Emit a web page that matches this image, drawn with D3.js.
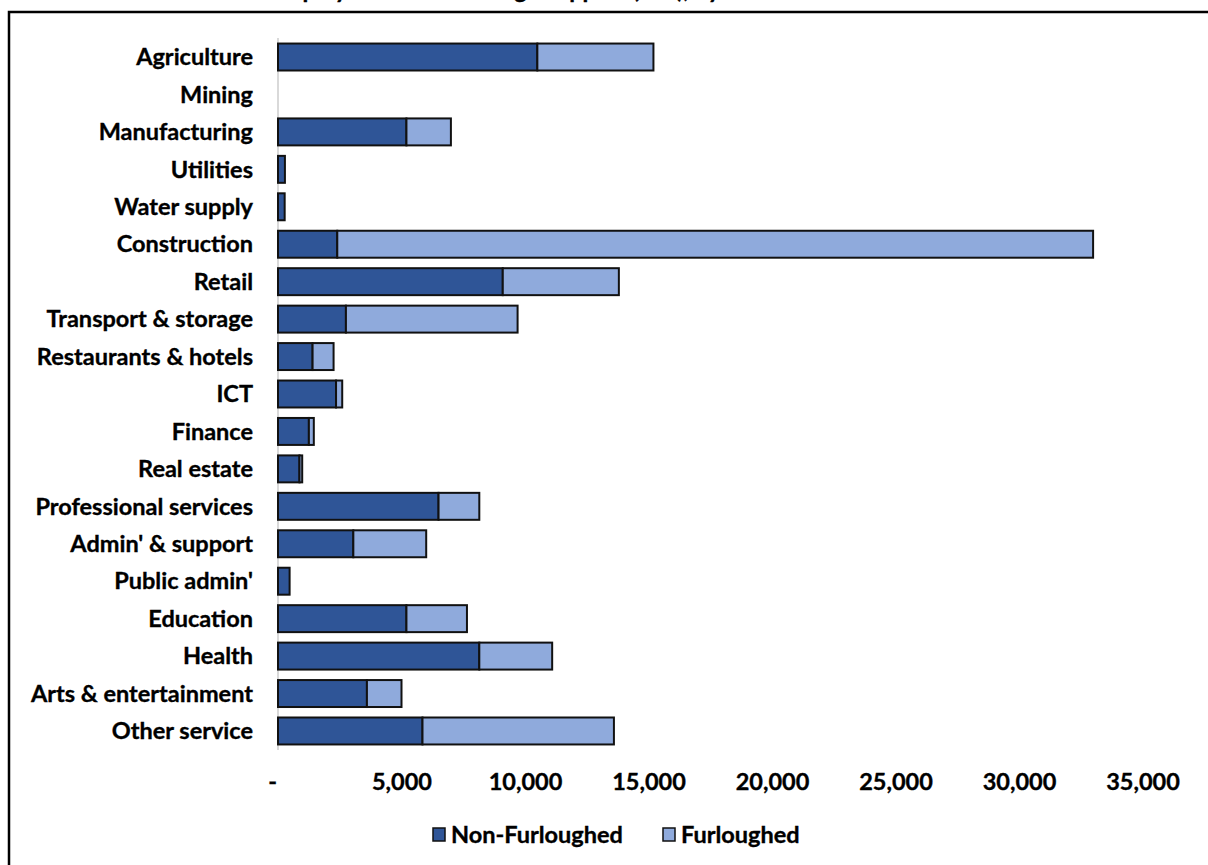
<!DOCTYPE html>
<html>
<head>
<meta charset="utf-8">
<script src="https://cdn.jsdelivr.net/npm/d3@7"></script>
<style>
  html, body { margin: 0; padding: 0; background: #fff; }
  svg text { font-family: Lato, "Open Sans", sans-serif; font-weight: 700; fill: #000; stroke: #000; stroke-width: 0.35px; }
</style>
</head>
<body>
<svg id="chart" width="1208" height="865"></svg>
<script>
// Employment by sector, split by furlough status
const sectors = [
  "Agriculture", "Mining", "Manufacturing", "Utilities", "Water supply",
  "Construction", "Retail", "Transport & storage", "Restaurants & hotels",
  "ICT", "Finance", "Real estate", "Professional services", "Admin' & support",
  "Public admin'", "Education", "Health", "Arts & entertainment", "Other service"
];
const nonFurloughed = [
  10500, 0, 5200, 280, 270,
  2400, 9100, 2750, 1400,
  2350, 1250, 870, 6500, 3050,
  470, 5200, 8150, 3600, 5850
];
const furloughed = [
  4700, 0, 1800, 0, 0,
  30600, 4700, 6950, 850,
  250, 200, 110, 1650, 2950,
  0, 2450, 2950, 1400, 7750
];
const xTicks = [0, 5000, 10000, 15000, 20000, 25000, 30000, 35000];
const seriesNames = ["Non-Furloughed", "Furloughed"];
const seriesColors = ["#2F5597", "#8FAADC"];
const titleText = "Employment and furlough support (JRS), by sector";

const FONT = "23.5px";
const svg = d3.select("#chart");
const W = 1208, H = 865;

svg.append("rect").attr("x", 0).attr("y", 0).attr("width", W).attr("height", H).attr("fill", "#fff");

// Chart frame (extends past the right and bottom edges)
svg.append("rect")
  .attr("x", 9).attr("y", 12)
  .attr("width", 1250).attr("height", 900)
  .attr("fill", "none").attr("stroke", "#000").attr("stroke-width", 2.5);

// Title sits above the frame, mostly outside the visible area
svg.append("text")
  .attr("x", 530).attr("y", -2)
  .attr("text-anchor", "middle")
  .style("font-size", FONT)
  .text(titleText);

const x = d3.scaleLinear().domain([0, 35000]).range([278, 1142.5]);
const y = d3.scaleBand().domain(sectors).range([38.3, 749.7])
  .paddingInner(0.28).paddingOuter(0.14);

// Vertical category axis line
svg.append("line")
  .attr("x1", x(0)).attr("x2", x(0))
  .attr("y1", 38).attr("y2", 750)
  .attr("stroke", "#d9d9d9").attr("stroke-width", 2);

const rows = sectors.map((s, i) => ({ sector: s, nf: nonFurloughed[i], f: furloughed[i] }));

const segs = [];
rows.forEach(r => {
  segs.push({ sector: r.sector, x0: 0, x1: r.nf, k: 0 });
  segs.push({ sector: r.sector, x0: r.nf, x1: r.nf + r.f, k: 1 });
});

svg.append("g").selectAll("rect")
  .data(segs.filter(d => d.x1 > d.x0))
  .join("rect")
  .attr("x", d => x(d.x0))
  .attr("y", d => y(d.sector))
  .attr("width", d => x(d.x1) - x(d.x0))
  .attr("height", y.bandwidth())
  .attr("fill", d => seriesColors[d.k])
  .attr("stroke", "#111")
  .attr("stroke-width", 2);

// Category labels
svg.append("g").selectAll("text")
  .data(sectors)
  .join("text")
  .attr("x", 253)
  .attr("y", d => y(d) + y.bandwidth() / 2)
  .attr("dy", "0.35em")
  .attr("text-anchor", "end")
  .style("font-size", FONT)
  .text(d => d);

// Value axis labels
const fmt = d3.format(",");
const xAxis = d3.axisBottom(x)
  .tickValues(xTicks)
  .tickSize(0)
  .tickPadding(0)
  .tickFormat(v => v === 0 ? "-" : fmt(v));
const gx = svg.append("g").attr("transform", "translate(0,773)").call(xAxis);
gx.select(".domain").remove();
gx.selectAll("text")
  .style("font-size", FONT)
  .style("font-family", "Lato, 'Open Sans', sans-serif")
  .style("font-weight", 700)
  .attr("fill", "#000")
  .attr("dx", v => v === 0 ? -6 : 0);

// Legend
const legendItems = [
  { name: seriesNames[0], color: seriesColors[0], x: 433 },
  { name: seriesNames[1], color: seriesColors[1], x: 663 }
];
const lg = svg.append("g").selectAll("g")
  .data(legendItems)
  .join("g")
  .attr("transform", d => `translate(${d.x},828)`);
lg.append("rect")
  .attr("width", 12).attr("height", 13)
  .attr("fill", d => d.color)
  .attr("stroke", "#111").attr("stroke-width", 1.5);
lg.append("text")
  .attr("x", 18).attr("y", 6.5).attr("dy", "0.35em")
  .style("font-size", FONT)
  .text(d => d.name);
</script>
</body>
</html>
